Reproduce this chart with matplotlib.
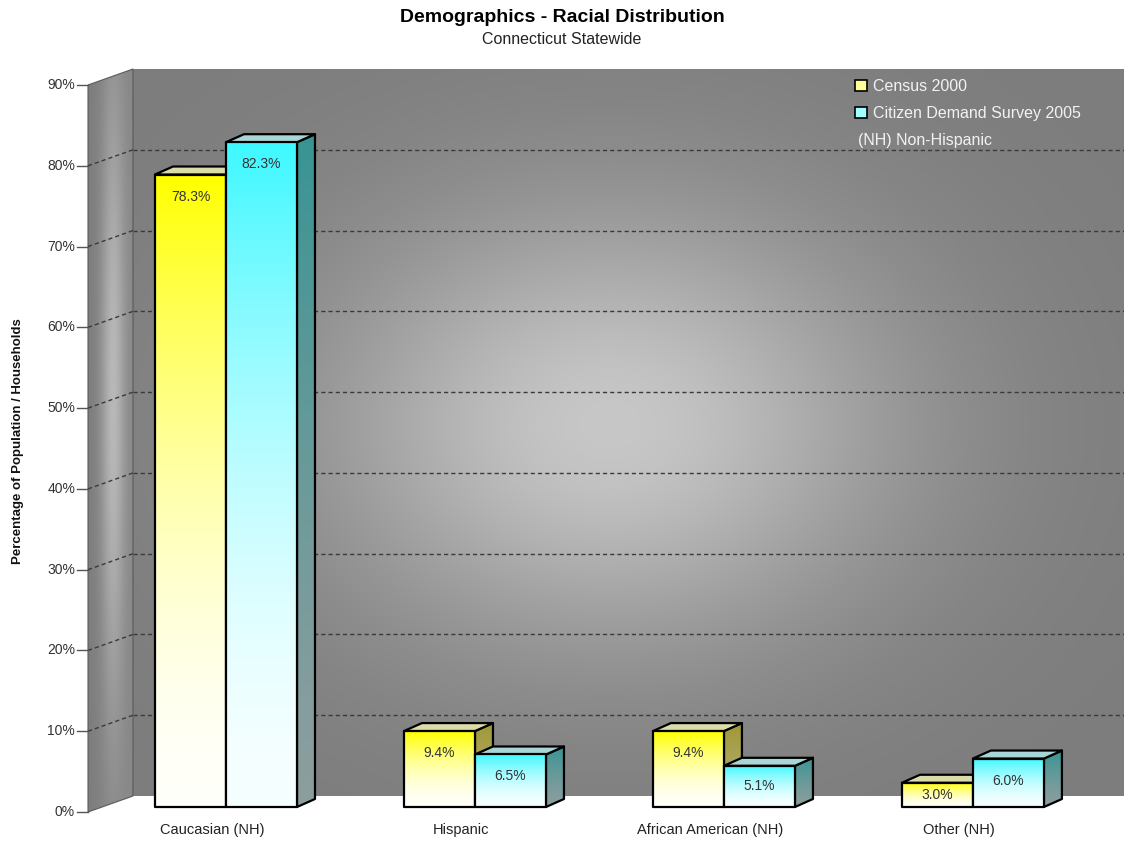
import numpy as np
import matplotlib
matplotlib.use("Agg")
import matplotlib.pyplot as plt
from matplotlib.patches import Polygon, Patch
from matplotlib.colors import to_rgb

plt.rcParams['font.family'] = ['Liberation Sans', 'DejaVu Sans']

# ---------------- data ----------------
categories = ["Caucasian (NH)", "Hispanic", "African American (NH)", "Other (NH)"]
census_2000 = [78.3, 9.4, 9.4, 3.0]
survey_2005 = [82.3, 6.5, 5.1, 6.0]
series_names = ["Census 2000", "Citizen Demand Survey 2005"]
legend_note = "(NH) Non-Hispanic"
y_ticks = [0, 10, 20, 30, 40, 50, 60, 70, 80, 90]
y_tick_labels = [f"{t}%" for t in y_ticks]
title = "Demographics - Racial Distribution"
subtitle = "Connecticut Statewide"
y_label = "Percentage of Population / Households"

# ---------------- styling ----------------
W, H = 1124, 844
front_colors = [("#ffff00", "#fffffa"), ("#3ff8ff", "#f6ffff")]
side_colors = [("#a09834", "#b4b07c"), ("#389494", "#8c9e9e")]
top_colors = ["#dcdcaa", "#a8d6d6"]
legend_colors = ["#ffff99", "#a0ffff"]

fig = plt.figure(figsize=(W / 100, H / 100), dpi=100)
fig.patch.set_facecolor("white")

ax_rect = [88 / W, 32 / H, 1036 / W, 727 / H]
XMIN, XMAX = -0.498, 3.663
YMIN, YMAX = y_ticks[0], y_ticks[-1]

ax = fig.add_axes(ax_rect, zorder=2)
ax.set_xlim(XMIN, XMAX)
ax.set_ylim(YMIN, YMAX)
ax.axis("off")

sx = ax.bbox.width / (XMAX - XMIN)
sy = ax.bbox.height / (YMAX - YMIN)
px2x = lambda p: p / sx
px2y = lambda p: p / sy

# wall depth, bar plane offset, bar depth (pixels -> data)
wx, wy = px2x(45), px2y(16)
bx, by = px2x(14), px2y(5)
dx, dy = px2x(18), px2y(8)
bw = px2x(71)

# ---------------- back wall (separate axes shifted by wall depth) ----------------
axb = fig.add_axes([ax_rect[0] + 45 / W, ax_rect[1] + 16 / H, ax_rect[2], ax_rect[3]], zorder=0)
axb.set_xlim(XMIN, XMAX)
axb.set_ylim(YMIN, YMAX)
axb.axis("off")
nx, ny = 520, 360
u = np.linspace(133, 133 + 1036, nx)[None, :]
v = np.linspace(796, 69, ny)[:, None]
gx = np.exp(-((u - 610) / 290.0) ** 2)
gy = np.exp(-((v - 440) / 220.0) ** 2)
val = 0.49 + 0.29 * gx * gy
img = np.dstack([val, val, val])
axb.imshow(img, extent=(XMIN, XMAX, YMIN, YMAX), origin="upper", aspect="auto",
           interpolation="bilinear", zorder=0)
for t in y_ticks[1:-1]:
    axb.axhline(t, color="#3a3a3a", lw=1.0, ls=(0, (3, 2.2)), zorder=1)
axb.set_xlim(XMIN, XMAX)
axb.set_ylim(YMIN, YMAX)

# ---------------- left wall ----------------
lw_verts = [(XMIN, YMIN), (XMIN + wx, YMIN + wy), (XMIN + wx, YMAX + wy), (XMIN, YMAX)]
lw_poly = Polygon(lw_verts, closed=True, facecolor="none", edgecolor="#5a5a5a",
                  lw=0.8, clip_on=False, zorder=1.5)
ax.add_patch(lw_poly)
tx = np.linspace(0, 45, 60)[None, :]
ty = np.linspace(812, 69, 300)[:, None]
prof = np.exp(-((tx - 25) / 12.0) ** 2)
vert = np.exp(-((ty - 480) / 320.0) ** 2)
lval = 0.49 + 0.04 * (tx / 45) + 0.21 * prof * vert
limg = np.dstack([lval, lval, lval])
im = ax.imshow(limg, extent=(XMIN, XMIN + wx, YMIN, YMAX + wy), origin="upper",
               aspect="auto", interpolation="bilinear", zorder=1)
im.set_clip_box(fig.bbox)
im.set_clip_path(lw_poly)
for t in y_ticks[1:-1]:
    ax.plot([XMIN, XMIN + wx], [t, t + wy], color="#3a3a3a", lw=1.0,
            ls=(0, (3, 2.2)), clip_on=False, zorder=1.6)

# ticks and tick labels
for t, lab in zip(y_ticks, y_tick_labels):
    ax.plot([XMIN - px2x(11), XMIN], [t, t], color="#555555", lw=1.0, clip_on=False, zorder=1.6)
    ax.text(XMIN - px2x(13), t, lab, ha="right", va="center", fontsize=10, color="#333333")

# ---------------- bars ----------------
def grad_fill(verts, extent, c_top, c_bot, z, power=1.0):
    poly = Polygon(verts, closed=True, facecolor="none", edgecolor="none", clip_on=False)
    ax.add_patch(poly)
    ct, cb = np.array(to_rgb(c_top)), np.array(to_rgb(c_bot))
    f = np.linspace(1, 0, 120)[:, None, None]
    arr = cb + (ct - cb) * f ** power
    arr = np.repeat(arr, 2, axis=1)
    gi = ax.imshow(arr, extent=extent, origin="upper", aspect="auto",
                   interpolation="bilinear", zorder=z)
    gi.set_clip_box(fig.bbox)
    gi.set_clip_path(poly)
    edge = Polygon(verts, closed=True, facecolor="none", edgecolor="black",
                   lw=1.6, joinstyle="round", clip_on=False, zorder=z + 0.01)
    ax.add_patch(edge)

z = 3.0
series = [census_2000, survey_2005]
for i, cat in enumerate(categories):
    for s, vals in enumerate(series):
        val_ = vals[i]
        x0 = i - bw + s * bw + bx
        x1 = x0 + bw
        y0 = YMIN + by
        y1 = val_ + by
        # side face
        side = [(x1, y0), (x1 + dx, y0 + dy), (x1 + dx, y1 + dy), (x1, y1)]
        grad_fill(side, (x1, x1 + dx, y0, y1 + dy), side_colors[s][0], side_colors[s][1], z, 1.3)
        # top face
        top = [(x0, y1), (x1, y1), (x1 + dx, y1 + dy), (x0 + dx, y1 + dy)]
        ax.add_patch(Polygon(top, closed=True, facecolor=top_colors[s], edgecolor="black",
                             lw=1.6, joinstyle="round", clip_on=False, zorder=z + 0.02))
        # front face
        front = [(x0, y0), (x1, y0), (x1, y1), (x0, y1)]
        grad_fill(front, (x0, x1, y0, y1), front_colors[s][0], front_colors[s][1], z + 0.03, 1.7)
        # value label
        h = val_
        off = min(px2y(22), h / 2)
        ax.text((x0 + x1) / 2, y1 - off, f"{val_:.1f}%", ha="center", va="center",
                fontsize=10, color="#333333", zorder=z + 0.05)
        z += 0.1
    ax.text(i, YMIN - px2y(18), cat, ha="center", va="center", fontsize=10.5, color="#222222")

ax.set_xlim(XMIN, XMAX)
ax.set_ylim(YMIN, YMAX)

# ---------------- legend ----------------
handles = [Patch(facecolor=legend_colors[k], edgecolor="black", lw=1.2) for k in range(2)]
leg = fig.legend(handles, series_names, loc="upper left", bbox_to_anchor=(855 / W, 1 - 79 / H),
                 bbox_transform=fig.transFigure, frameon=False, borderpad=0, borderaxespad=0,
                 handlelength=0.75, handleheight=0.75, handletextpad=0.35, labelspacing=0.75,
                 fontsize=11.5)
for tx_ in leg.get_texts():
    tx_.set_color("#f2f2f2")
fig.text(858 / W, 1 - 140 / H, legend_note, ha="left", va="center", fontsize=11.5, color="#f2f2f2")

# ---------------- titles ----------------
fig.text(562 / W, 1 - 17 / H, title, ha="center", va="center", fontsize=14,
         fontweight="bold", color="black")
fig.text(562 / W, 1 - 40 / H, subtitle, ha="center", va="center", fontsize=11.5, color="#222222")
fig.text(18 / W, 1 - 441 / H, y_label, ha="center", va="center", rotation=90, fontsize=9.5,
         fontweight="bold", color="#111111")

fig.savefig("out.png", dpi=100)
